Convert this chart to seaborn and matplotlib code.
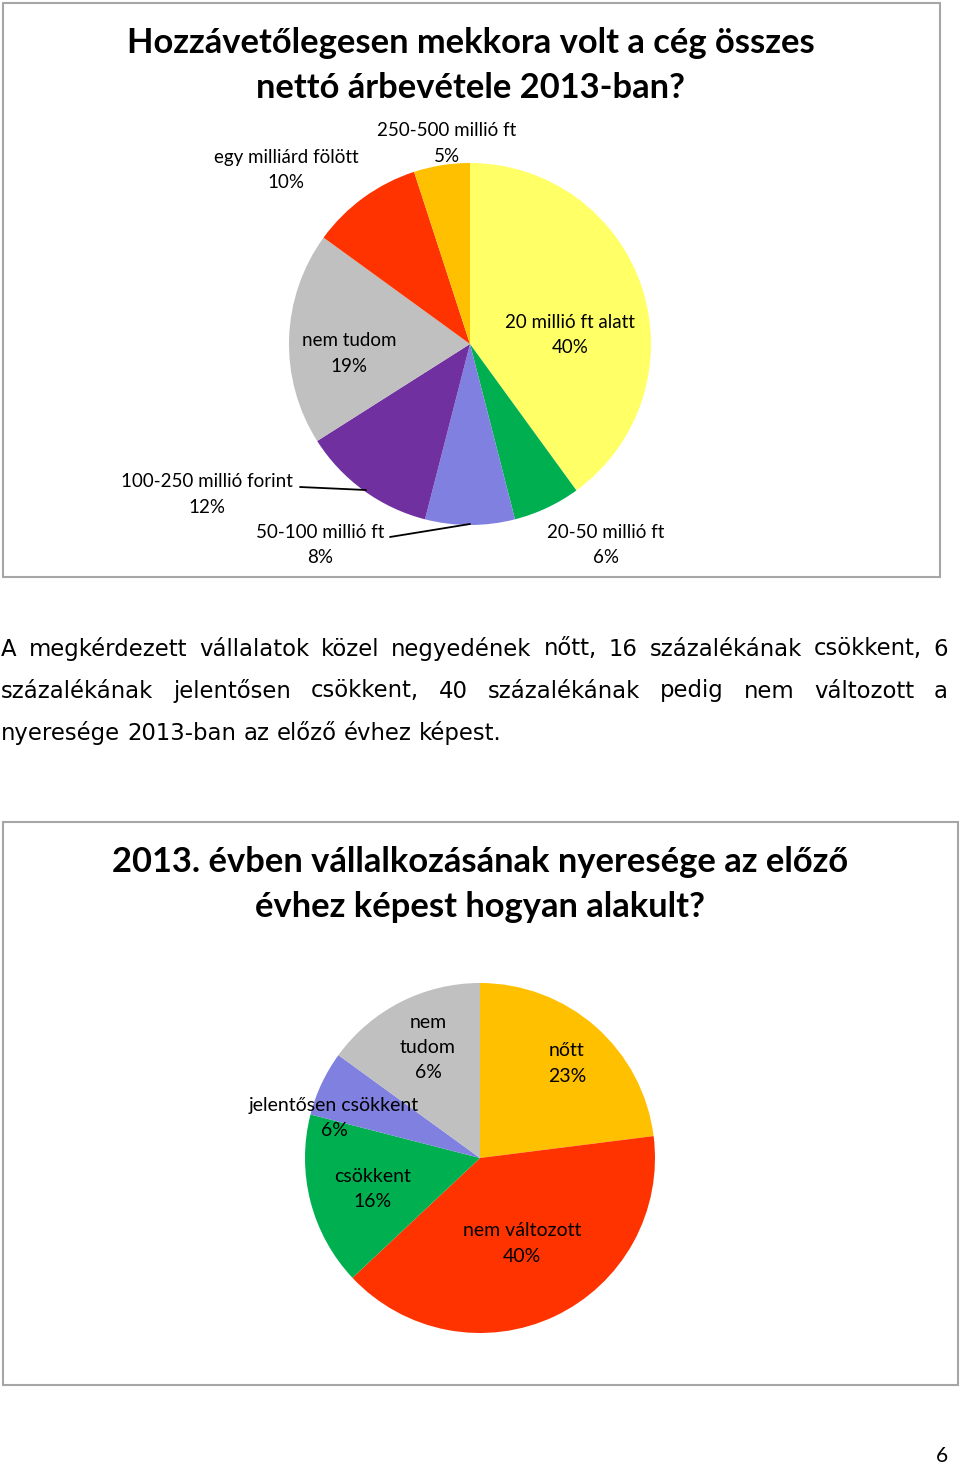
import matplotlib
matplotlib.use("Agg")
import matplotlib.pyplot as plt
import seaborn as sns
from matplotlib.patches import Rectangle
from matplotlib.lines import Line2D

sns.set_style("white")
plt.rcParams['font.family'] = ['Lato', 'DejaVu Sans']

W, H = 960, 1466

# --- chart 1: net revenue 2013
rev_cats = ["20 millió ft alatt", "20-50 millió ft", "50-100 millió ft",
            "100-250 millió forint", "nem tudom", "egy milliárd fölött",
            "250-500 millió ft"]
rev_vals = [40, 6, 8, 12, 19, 10, 5]
rev_colors = ["#FFFF66", "#00B050", "#8080E0", "#7030A0", "#C0C0C0",
              "#FF3300", "#FFC000"]
rev_title = "Hozzávetőlegesen mekkora volt a cég összes\nnettó árbevétele 2013-ban?"

# --- chart 2: profit change vs previous year
prof_cats = ["nőtt", "nem változott", "csökkent", "jelentősen csökkent", "nem\ntudom"]
prof_vals = [23, 40, 16, 6, 15]
prof_pct = ["23%", "40%", "16%", "6%", "6%"]
prof_colors = ["#FFC000", "#FF3300", "#00B050", "#8080E0", "#C0C0C0"]
prof_title = "2013. évben vállalkozásának nyeresége az előző\névhez képest hogyan alakult?"

para_lines = [
    "A megkérdezett vállalatok közel negyedének nőtt, 16 százalékának csökkent, 6",
    "százalékának jelentősen csökkent, 40 százalékának pedig nem változott a",
    "nyeresége 2013-ban az előző évhez képest.",
]

fig = plt.figure(figsize=(W / 100, H / 100), dpi=100)
fig.patch.set_facecolor("white")


def fx(x):
    return x / W


def fy(y):
    return 1 - y / H


def label(x, y, lines, size=13.5, gap=25.5):
    for i, s in enumerate(lines):
        fig.text(fx(x), fy(y + i * gap), s, ha="center", va="center",
                 fontsize=size, color="black")


def pie_axes(cx, cy, r, vals, colors):
    ax = fig.add_axes([fx(cx - r), fy(cy + r), 2 * r / W, 2 * r / H])
    ax.pie(vals, colors=colors, startangle=90, counterclock=False, radius=1,
           wedgeprops=dict(linewidth=0))
    ax.set_xlim(-1, 1)
    ax.set_ylim(-1, 1)
    ax.set_aspect("equal")
    ax.axis("off")
    return ax


# frames
fig.patches.append(Rectangle((fx(3), fy(577)), fx(937), 574 / H, transform=fig.transFigure,
                             fill=False, edgecolor="#A6A6A6", linewidth=1.5))
fig.patches.append(Rectangle((fx(3), fy(1385)), fx(955), 563 / H, transform=fig.transFigure,
                             fill=False, edgecolor="#A6A6A6", linewidth=1.5))

# chart 1
for i, s in enumerate(rev_title.split("\n")):
    fig.text(fx(471), fy(43 + i * 45), s, ha="center", va="center",
             fontsize=24.8, fontweight="bold", color="black")
pie_axes(470, 344, 181, rev_vals, rev_colors)
rev_pos = [(570, 322), (606, 532), (320, 532), (207, 482), (349, 341), (286, 157), (447, 131)]
for cat, v, (x, y) in zip(rev_cats, rev_vals, rev_pos):
    label(x, y, [cat, f"{v}%"])
for (x0, y0), (x1, y1) in [((300, 487), (366, 490)), ((390, 537), (470, 524))]:
    fig.lines.append(Line2D([fx(x0), fx(x1)], [fy(y0), fy(y1)], transform=fig.transFigure,
                            color="black", linewidth=1.3))

# paragraph (justified)
renderer = fig.canvas.get_renderer()
left, right = 1, 948
psize = 16.4
for li, line in enumerate(para_lines):
    words = line.split(" ")
    texts = [fig.text(0, fy(649 + li * 42), w, ha="left", va="center", fontsize=psize,
                      family="DejaVu Sans", color="black") for w in words]
    widths = [t.get_window_extent(renderer).width for t in texts]
    if li < len(para_lines) - 1:
        space = (right - left - sum(widths)) / (len(words) - 1)
    else:
        space = psize * 100 / 72 * 0.32
    x = left
    for t, w in zip(texts, widths):
        t.set_x(fx(x))
        x += w + space

# chart 2
for i, s in enumerate(prof_title.split("\n")):
    fig.text(fx(480), fy(862 + i * 45), s, ha="center", va="center",
             fontsize=24.8, fontweight="bold", color="black")
pie_axes(480, 1158, 175, prof_vals, prof_colors)
prof_pos = [(567, 1051), (522, 1231), (373, 1176), (334, 1105), (428, 1022)]
for cat, p, (x, y) in zip(prof_cats, prof_pct, prof_pos):
    label(x, y, cat.split("\n") + [p], size=14)

# page number
fig.text(fx(942), fy(1456), "6", ha="center", va="center", fontsize=15, color="black")

fig.savefig("out.png", dpi=100)
